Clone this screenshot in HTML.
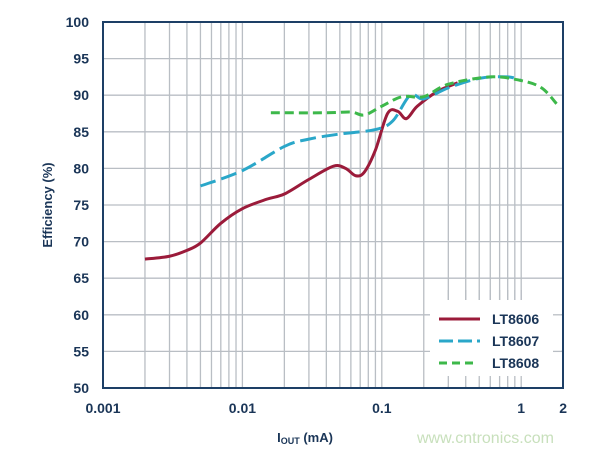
<!DOCTYPE html>
<html><head><meta charset="utf-8"><style>
body{margin:0;background:#fff;}
svg{display:block;font-family:"Liberation Sans",sans-serif;}
</style></head><body>
<svg id="s" width="600" height="452" xmlns="http://www.w3.org/2000/svg">
<g id="grid"></g>
<rect x="430" y="300" width="131" height="86" fill="#fff"/>
<g id="stubs"></g>
<rect x="103" y="22" width="460" height="366" fill="none" stroke="#1d3f66" stroke-width="2"/>
<g id="curves" fill="none" stroke-width="3"></g>
<g font-weight="bold" font-size="14" fill="#1a3557" id="labels"></g>
<text transform="translate(52,205) rotate(-90)" text-anchor="middle" font-weight="bold" font-size="13" fill="#1a3557">Efficiency (%)</text>
<text x="305" y="442" text-anchor="middle" font-weight="bold" font-size="13" fill="#1a3557">I<tspan font-size="9" dy="2">OUT</tspan><tspan dy="-2"> (mA)</tspan></text>
<line x1="439" y1="319" x2="480" y2="319" stroke="#9b1b3a" stroke-width="3"/>
<line x1="439" y1="341" x2="480" y2="341" stroke="#2aa7c9" stroke-width="3" stroke-dasharray="14,5"/>
<line x1="439" y1="363" x2="478" y2="363" stroke="#3db84a" stroke-width="3" stroke-dasharray="8,5"/>
<g font-weight="bold" font-size="14" fill="#1a3557">
<text x="492" y="324">LT8606</text><text x="492" y="346">LT8607</text><text x="492" y="368">LT8608</text></g>
<text x="417" y="443" font-size="16" fill="#c8e0bc">www.cntronics.com</text>
</svg>
<script>
const X=v=>103+139.4*Math.log10(v/0.001), Y=v=>388-7.32*(v-50);
const ns="http://www.w3.org/2000/svg";
function el(p,t,a,txt){const e=document.createElementNS(ns,t);for(const k in a)e.setAttribute(k,a[k]);if(txt)e.textContent=txt;document.getElementById(p).appendChild(e);}
for(let d=0.001;d<2;d*=10)for(let m=1;m<10;m++){const v=d*m;if(v>2.001)break;const x=X(v);
 el("grid","line",{x1:x,y1:22,x2:x,y2:388,stroke:"#b9bec4","stroke-width":1.3});
 if(x>430){el("stubs","line",{x1:x,y1:388,x2:x,y2:376,stroke:"#b9bec4","stroke-width":1.3});el("stubs","line",{x1:x,y1:300,x2:x,y2:290,stroke:"#b9bec4","stroke-width":1.3});}}
for(let v=50;v<=100;v+=5){const y=Y(v);el("grid","line",{x1:103,y1:y,x2:563,y2:y,stroke:"#b9bec4","stroke-width":1.3});
 if(y>300&&y<388)el("stubs","line",{x1:553,y1:y,x2:563,y2:y,stroke:"#b9bec4","stroke-width":1.3});
 el("labels","text",{x:89,y:y+5,"text-anchor":"end"},String(v));}
[["0.001",0.001],["0.01",0.01],["0.1",0.1],["1",1],["2",2]].forEach(([t,v])=>el("labels","text",{x:X(v),y:413,"text-anchor":"middle"},t));
function path(pts){let p=pts.map(q=>[X(q[0]),Y(q[1])]);let d="M"+p[0];for(let i=0;i<p.length-1;i++){const a=p[i-1]||p[i],b=p[i],c=p[i+1],e=p[i+2]||c;
 d+=` C${b[0]+(c[0]-a[0])/6},${b[1]+(c[1]-a[1])/6} ${c[0]-(e[0]-b[0])/6},${c[1]-(e[1]-b[1])/6} ${c[0]},${c[1]}`;}return d;}
el("curves","path",{d:path([[0.002,67.6],[0.003,68],[0.004,68.8],[0.005,69.8],[0.007,72.5],[0.01,74.5],[0.015,75.8],[0.02,76.5],[0.03,78.5],[0.045,80.3],[0.055,80],[0.065,79],[0.075,79.5],[0.09,82.5],[0.11,87.5],[0.13,87.8],[0.15,86.8],[0.18,88.5],[0.25,90.5],[0.35,91.7]]),stroke:"#9b1b3a"});
el("curves","path",{d:path([[0.005,77.6],[0.01,79.7],[0.02,83],[0.03,84],[0.05,84.7],[0.09,85.3],[0.12,86.5],[0.16,90],[0.2,89.5],[0.3,91],[0.5,92.3],[0.8,92.5],[1,92]]),stroke:"#2aa7c9","stroke-dasharray":"16,6"});
el("curves","path",{d:path([[0.016,87.6],[0.04,87.6],[0.06,87.7],[0.075,87.3],[0.1,88.5],[0.14,89.8],[0.2,89.8],[0.3,91.5],[0.6,92.5],[1,92],[1.4,91],[1.8,88.8]]),stroke:"#3db84a","stroke-dasharray":"9,5"});
</script>
</body></html>
